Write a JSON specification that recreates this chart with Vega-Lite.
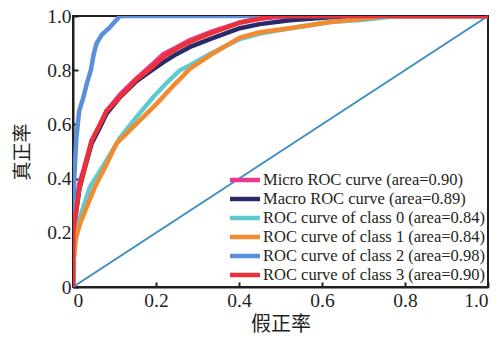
{
  "$schema": "https://vega.github.io/schema/vega-lite/v6.json",
  "width": 415,
  "height": 271,
  "autosize": "none",
  "padding": {"left": 73, "top": 16, "right": 13, "bottom": 59},
  "background": "white",
  "config": {
    "view": {"stroke": "#231f20", "strokeWidth": 2},
    "font": "Liberation Serif",
    "axis": {"labelFont": "Liberation Serif"}
  },
  "datasets": {
    "roc": [
      {"s": "Micro ROC curve (area=0.90)", "i": 0, "x": 0, "y": 0},
      {"s": "Micro ROC curve (area=0.90)", "i": 1, "x": 0, "y": 0.1},
      {"s": "Micro ROC curve (area=0.90)", "i": 2, "x": 0.003, "y": 0.2},
      {"s": "Micro ROC curve (area=0.90)", "i": 3, "x": 0.008, "y": 0.3},
      {"s": "Micro ROC curve (area=0.90)", "i": 4, "x": 0.015, "y": 0.38},
      {"s": "Micro ROC curve (area=0.90)", "i": 5, "x": 0.025, "y": 0.43},
      {"s": "Micro ROC curve (area=0.90)", "i": 6, "x": 0.045, "y": 0.54},
      {"s": "Micro ROC curve (area=0.90)", "i": 7, "x": 0.065, "y": 0.6},
      {"s": "Micro ROC curve (area=0.90)", "i": 8, "x": 0.081, "y": 0.65},
      {"s": "Micro ROC curve (area=0.90)", "i": 9, "x": 0.113, "y": 0.71},
      {"s": "Micro ROC curve (area=0.90)", "i": 10, "x": 0.153, "y": 0.77},
      {"s": "Micro ROC curve (area=0.90)", "i": 11, "x": 0.19, "y": 0.82},
      {"s": "Micro ROC curve (area=0.90)", "i": 12, "x": 0.218, "y": 0.86},
      {"s": "Micro ROC curve (area=0.90)", "i": 13, "x": 0.25, "y": 0.885},
      {"s": "Micro ROC curve (area=0.90)", "i": 14, "x": 0.28, "y": 0.91},
      {"s": "Micro ROC curve (area=0.90)", "i": 15, "x": 0.33, "y": 0.94},
      {"s": "Micro ROC curve (area=0.90)", "i": 16, "x": 0.4, "y": 0.975},
      {"s": "Micro ROC curve (area=0.90)", "i": 17, "x": 0.45, "y": 0.99},
      {"s": "Micro ROC curve (area=0.90)", "i": 18, "x": 0.5, "y": 0.997},
      {"s": "Micro ROC curve (area=0.90)", "i": 19, "x": 0.6, "y": 1},
      {"s": "Micro ROC curve (area=0.90)", "i": 20, "x": 1, "y": 1},

      {"s": "Macro ROC curve (area=0.89)", "i": 0, "x": 0, "y": 0},
      {"s": "Macro ROC curve (area=0.89)", "i": 1, "x": 0, "y": 0.2},
      {"s": "Macro ROC curve (area=0.89)", "i": 2, "x": 0.005, "y": 0.25},
      {"s": "Macro ROC curve (area=0.89)", "i": 3, "x": 0.015, "y": 0.36},
      {"s": "Macro ROC curve (area=0.89)", "i": 4, "x": 0.025, "y": 0.42},
      {"s": "Macro ROC curve (area=0.89)", "i": 5, "x": 0.045, "y": 0.53},
      {"s": "Macro ROC curve (area=0.89)", "i": 6, "x": 0.065, "y": 0.59},
      {"s": "Macro ROC curve (area=0.89)", "i": 7, "x": 0.081, "y": 0.64},
      {"s": "Macro ROC curve (area=0.89)", "i": 8, "x": 0.113, "y": 0.7},
      {"s": "Macro ROC curve (area=0.89)", "i": 9, "x": 0.153, "y": 0.76},
      {"s": "Macro ROC curve (area=0.89)", "i": 10, "x": 0.19, "y": 0.8},
      {"s": "Macro ROC curve (area=0.89)", "i": 11, "x": 0.218, "y": 0.83},
      {"s": "Macro ROC curve (area=0.89)", "i": 12, "x": 0.25, "y": 0.86},
      {"s": "Macro ROC curve (area=0.89)", "i": 13, "x": 0.282, "y": 0.886},
      {"s": "Macro ROC curve (area=0.89)", "i": 14, "x": 0.33, "y": 0.915},
      {"s": "Macro ROC curve (area=0.89)", "i": 15, "x": 0.402, "y": 0.955},
      {"s": "Macro ROC curve (area=0.89)", "i": 16, "x": 0.45, "y": 0.97},
      {"s": "Macro ROC curve (area=0.89)", "i": 17, "x": 0.523, "y": 0.984},
      {"s": "Macro ROC curve (area=0.89)", "i": 18, "x": 0.62, "y": 0.995},
      {"s": "Macro ROC curve (area=0.89)", "i": 19, "x": 0.7, "y": 1},
      {"s": "Macro ROC curve (area=0.89)", "i": 20, "x": 1, "y": 1},

      {"s": "ROC curve of class 0 (area=0.84)", "i": 0, "x": 0, "y": 0},
      {"s": "ROC curve of class 0 (area=0.84)", "i": 1, "x": 0, "y": 0.1},
      {"s": "ROC curve of class 0 (area=0.84)", "i": 2, "x": 0.004, "y": 0.18},
      {"s": "ROC curve of class 0 (area=0.84)", "i": 3, "x": 0.009, "y": 0.22},
      {"s": "ROC curve of class 0 (area=0.84)", "i": 4, "x": 0.025, "y": 0.295},
      {"s": "ROC curve of class 0 (area=0.84)", "i": 5, "x": 0.041, "y": 0.37},
      {"s": "ROC curve of class 0 (area=0.84)", "i": 6, "x": 0.07, "y": 0.44},
      {"s": "ROC curve of class 0 (area=0.84)", "i": 7, "x": 0.09, "y": 0.49},
      {"s": "ROC curve of class 0 (area=0.84)", "i": 8, "x": 0.113, "y": 0.55},
      {"s": "ROC curve of class 0 (area=0.84)", "i": 9, "x": 0.153, "y": 0.627},
      {"s": "ROC curve of class 0 (area=0.84)", "i": 10, "x": 0.193, "y": 0.7},
      {"s": "ROC curve of class 0 (area=0.84)", "i": 11, "x": 0.23, "y": 0.76},
      {"s": "ROC curve of class 0 (area=0.84)", "i": 12, "x": 0.258, "y": 0.8},
      {"s": "ROC curve of class 0 (area=0.84)", "i": 13, "x": 0.282, "y": 0.818},
      {"s": "ROC curve of class 0 (area=0.84)", "i": 14, "x": 0.33, "y": 0.86},
      {"s": "ROC curve of class 0 (area=0.84)", "i": 15, "x": 0.402, "y": 0.915},
      {"s": "ROC curve of class 0 (area=0.84)", "i": 16, "x": 0.45, "y": 0.935},
      {"s": "ROC curve of class 0 (area=0.84)", "i": 17, "x": 0.523, "y": 0.955},
      {"s": "ROC curve of class 0 (area=0.84)", "i": 18, "x": 0.62, "y": 0.978},
      {"s": "ROC curve of class 0 (area=0.84)", "i": 19, "x": 0.7, "y": 0.986},
      {"s": "ROC curve of class 0 (area=0.84)", "i": 20, "x": 0.78, "y": 1},
      {"s": "ROC curve of class 0 (area=0.84)", "i": 21, "x": 1, "y": 1},

      {"s": "ROC curve of class 1 (area=0.84)", "i": 0, "x": 0, "y": 0},
      {"s": "ROC curve of class 1 (area=0.84)", "i": 1, "x": 0.002, "y": 0.1},
      {"s": "ROC curve of class 1 (area=0.84)", "i": 2, "x": 0.007, "y": 0.18},
      {"s": "ROC curve of class 1 (area=0.84)", "i": 3, "x": 0.017, "y": 0.234},
      {"s": "ROC curve of class 1 (area=0.84)", "i": 4, "x": 0.033, "y": 0.295},
      {"s": "ROC curve of class 1 (area=0.84)", "i": 5, "x": 0.053, "y": 0.37},
      {"s": "ROC curve of class 1 (area=0.84)", "i": 6, "x": 0.08, "y": 0.45},
      {"s": "ROC curve of class 1 (area=0.84)", "i": 7, "x": 0.105, "y": 0.53},
      {"s": "ROC curve of class 1 (area=0.84)", "i": 8, "x": 0.153, "y": 0.603},
      {"s": "ROC curve of class 1 (area=0.84)", "i": 9, "x": 0.202, "y": 0.677},
      {"s": "ROC curve of class 1 (area=0.84)", "i": 10, "x": 0.24, "y": 0.74},
      {"s": "ROC curve of class 1 (area=0.84)", "i": 11, "x": 0.266, "y": 0.78},
      {"s": "ROC curve of class 1 (area=0.84)", "i": 12, "x": 0.282, "y": 0.806},
      {"s": "ROC curve of class 1 (area=0.84)", "i": 13, "x": 0.33, "y": 0.855},
      {"s": "ROC curve of class 1 (area=0.84)", "i": 14, "x": 0.402, "y": 0.92},
      {"s": "ROC curve of class 1 (area=0.84)", "i": 15, "x": 0.45, "y": 0.94},
      {"s": "ROC curve of class 1 (area=0.84)", "i": 16, "x": 0.523, "y": 0.955},
      {"s": "ROC curve of class 1 (area=0.84)", "i": 17, "x": 0.62, "y": 0.978},
      {"s": "ROC curve of class 1 (area=0.84)", "i": 18, "x": 0.7, "y": 0.99},
      {"s": "ROC curve of class 1 (area=0.84)", "i": 19, "x": 0.75, "y": 1},
      {"s": "ROC curve of class 1 (area=0.84)", "i": 20, "x": 1, "y": 1},

      {"s": "ROC curve of class 2 (area=0.98)", "i": 0, "x": 0, "y": 0},
      {"s": "ROC curve of class 2 (area=0.98)", "i": 1, "x": 0, "y": 0.2},
      {"s": "ROC curve of class 2 (area=0.98)", "i": 2, "x": 0.003, "y": 0.4},
      {"s": "ROC curve of class 2 (area=0.98)", "i": 3, "x": 0.008, "y": 0.55},
      {"s": "ROC curve of class 2 (area=0.98)", "i": 4, "x": 0.015, "y": 0.65},
      {"s": "ROC curve of class 2 (area=0.98)", "i": 5, "x": 0.025, "y": 0.7},
      {"s": "ROC curve of class 2 (area=0.98)", "i": 6, "x": 0.035, "y": 0.76},
      {"s": "ROC curve of class 2 (area=0.98)", "i": 7, "x": 0.043, "y": 0.8},
      {"s": "ROC curve of class 2 (area=0.98)", "i": 8, "x": 0.05, "y": 0.86},
      {"s": "ROC curve of class 2 (area=0.98)", "i": 9, "x": 0.057, "y": 0.9},
      {"s": "ROC curve of class 2 (area=0.98)", "i": 10, "x": 0.069, "y": 0.93},
      {"s": "ROC curve of class 2 (area=0.98)", "i": 11, "x": 0.09, "y": 0.96},
      {"s": "ROC curve of class 2 (area=0.98)", "i": 12, "x": 0.113, "y": 1},
      {"s": "ROC curve of class 2 (area=0.98)", "i": 13, "x": 1, "y": 1},

      {"s": "ROC curve of class 3 (area=0.90)", "i": 0, "x": 0, "y": 0},
      {"s": "ROC curve of class 3 (area=0.90)", "i": 1, "x": 0, "y": 0.2},
      {"s": "ROC curve of class 3 (area=0.90)", "i": 2, "x": 0.005, "y": 0.25},
      {"s": "ROC curve of class 3 (area=0.90)", "i": 3, "x": 0.015, "y": 0.36},
      {"s": "ROC curve of class 3 (area=0.90)", "i": 4, "x": 0.025, "y": 0.42},
      {"s": "ROC curve of class 3 (area=0.90)", "i": 5, "x": 0.045, "y": 0.54},
      {"s": "ROC curve of class 3 (area=0.90)", "i": 6, "x": 0.065, "y": 0.6},
      {"s": "ROC curve of class 3 (area=0.90)", "i": 7, "x": 0.081, "y": 0.65},
      {"s": "ROC curve of class 3 (area=0.90)", "i": 8, "x": 0.113, "y": 0.7},
      {"s": "ROC curve of class 3 (area=0.90)", "i": 9, "x": 0.153, "y": 0.765},
      {"s": "ROC curve of class 3 (area=0.90)", "i": 10, "x": 0.19, "y": 0.81},
      {"s": "ROC curve of class 3 (area=0.90)", "i": 11, "x": 0.218, "y": 0.85},
      {"s": "ROC curve of class 3 (area=0.90)", "i": 12, "x": 0.25, "y": 0.88},
      {"s": "ROC curve of class 3 (area=0.90)", "i": 13, "x": 0.282, "y": 0.905},
      {"s": "ROC curve of class 3 (area=0.90)", "i": 14, "x": 0.33, "y": 0.935},
      {"s": "ROC curve of class 3 (area=0.90)", "i": 15, "x": 0.4, "y": 0.975},
      {"s": "ROC curve of class 3 (area=0.90)", "i": 16, "x": 0.48, "y": 1},
      {"s": "ROC curve of class 3 (area=0.90)", "i": 17, "x": 1, "y": 1}
    ],
    "diag": [{"x": 0, "y": 0}, {"x": 1, "y": 1}]
  },
  "layer": [
    {
      "data": {"name": "diag"},
      "mark": {"type": "line", "color": "#3d8fc1", "strokeWidth": 2},
      "encoding": {
        "x": {"field": "x", "type": "quantitative"},
        "y": {"field": "y", "type": "quantitative"}
      }
    },
    {
      "data": {"name": "roc"},
      "mark": {"type": "line", "strokeJoin": "round", "clip": true},
      "encoding": {
        "x": {
          "field": "x", "type": "quantitative",
          "scale": {"domain": [0, 1], "nice": false, "zero": false},
          "axis": {
            "title": "假正率", "titleFont": "Noto Sans CJK SC", "titleFontSize": 20, "titleFontWeight": "normal",
            "titleColor": "#231f20", "titlePadding": 5,
            "values": [0, 0.2, 0.4, 0.6, 0.8, 1.0],
            "labelExpr": "datum.value == 0 ? '0' : format(datum.value, '.1f')",
            "labelFont": "Liberation Serif", "labelFontSize": 19.5, "labelColor": "#231f20", "labelPadding": 9,
            "grid": false, "domainColor": "#231f20", "domainWidth": 2,
            "tickColor": "#231f20", "tickWidth": 2, "tickSize": -5
          }
        },
        "y": {
          "field": "y", "type": "quantitative",
          "scale": {"domain": [0, 1], "nice": false, "zero": false},
          "axis": {
            "title": "真正率", "titleFont": "Noto Sans CJK SC", "titleFontSize": 19, "titleFontWeight": "normal",
            "titleColor": "#231f20", "titlePadding": 14,
            "values": [0, 0.2, 0.4, 0.6, 0.8, 1.0],
            "labelExpr": "datum.value == 0 ? '0' : format(datum.value, '.1f')",
            "labelFont": "Liberation Serif", "labelFontSize": 19.5, "labelColor": "#231f20", "labelPadding": 7,
            "grid": false, "domainColor": "#231f20", "domainWidth": 2,
            "tickColor": "#231f20", "tickWidth": 2, "tickSize": -5
          }
        },
        "order": {"field": "i", "type": "quantitative"},
        "color": {
          "field": "s", "type": "nominal",
          "scale": {
            "domain": ["Micro ROC curve (area=0.90)", "Macro ROC curve (area=0.89)", "ROC curve of class 0 (area=0.84)", "ROC curve of class 1 (area=0.84)", "ROC curve of class 2 (area=0.98)", "ROC curve of class 3 (area=0.90)"],
            "range": ["#e8388f", "#2b2a68", "#5fcbcf", "#f28a30", "#5b8fd8", "#ea3038"]
          },
          "legend": {
            "title": null, "orient": "none", "legendX": 162, "legendY": 154,
            "symbolType": "M-2,0H2", "symbolSize": 225,
            "labelFont": "Liberation Serif", "labelFontSize": 16.5, "labelColor": "#231f20", "labelLimit": 400,
            "rowPadding": 0, "labelOffset": 8,
            "encode": {
              "symbols": {"update": {"strokeWidth": {"signal": "indexof(datum.value, 'ROC curve of') == 0 ? 2.6 : 5"}}}
            }
          }
        },
        "strokeWidth": {
          "field": "s", "type": "nominal",
          "scale": {
            "domain": ["Micro ROC curve (area=0.90)", "Macro ROC curve (area=0.89)", "ROC curve of class 0 (area=0.84)", "ROC curve of class 1 (area=0.84)", "ROC curve of class 2 (area=0.98)", "ROC curve of class 3 (area=0.90)"],
            "range": [4.5, 4.5, 2, 2, 2, 2]
          },
          "legend": null
        }
      }
    }
  ]
}
